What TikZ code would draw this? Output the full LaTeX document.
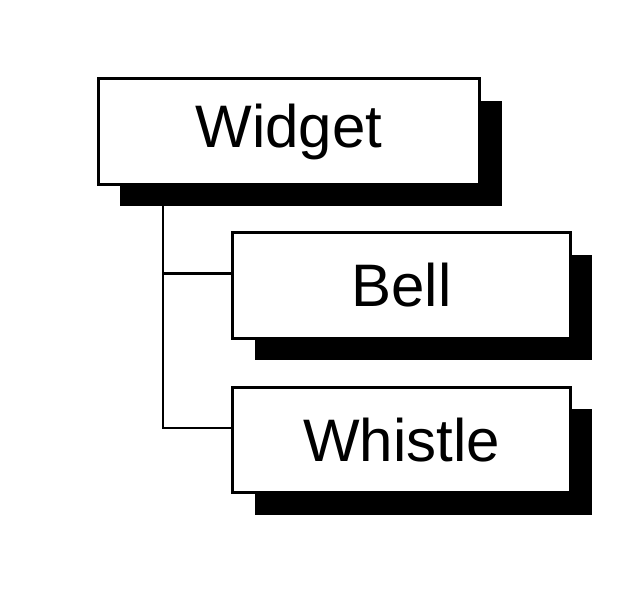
\documentclass[tikz,border=0pt]{standalone}
\usepackage{fontspec}
\setsansfont{Liberation Sans}
\usetikzlibrary{shadows}
\tikzset{
    classbox/.style={draw, fill=white, line width=2.2pt, minimum height=79pt,
        font=\sffamily\fontsize{45}{54}\selectfont,
        drop shadow={shadow xshift=16.5pt, shadow yshift=-16.5pt, fill=black, opacity=1}},
    link/.style={line width=1.8pt}
}
\begin{document}
\begin{tikzpicture}[x=0.75pt, y=-0.75pt]
        \useasboundingbox (0,0) rectangle (644,611);
        \node[classbox, minimum width=286pt] (widget) at (289,131.5) {Widget};
        \node[classbox, minimum width=253pt] (bell) at (401.5,285.5) {Bell};
        \node[classbox, minimum width=253pt] (whistle) at (401.5,440) {Whistle};
        \coordinate (trunk) at (163,185);
        \draw[link] (trunk) |- ([yshift=9pt]whistle.west);
        \draw[link] ([yshift=9pt]bell.west) -- ([yshift=9pt]bell.west -| trunk);
    \end{tikzpicture}
\end{document}
